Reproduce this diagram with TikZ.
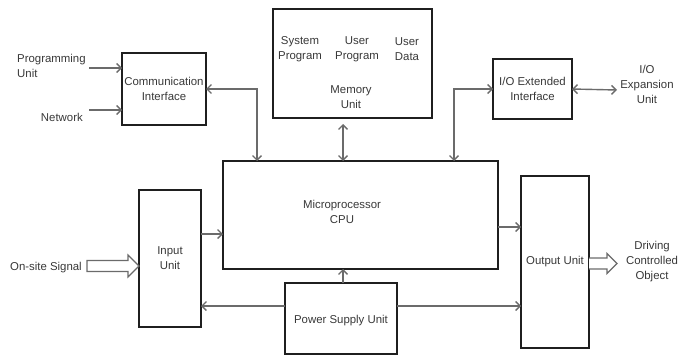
\documentclass[tikz,border=0pt]{standalone}
\usepackage{fontspec}
\setmainfont{Liberation Sans}
\usetikzlibrary{arrows.meta,calc}
\begin{document}
\begin{tikzpicture}[x=1pt,y=-1pt,
  every node/.style={font=\fontsize{11.4}{15}\selectfont, text=black!78},
  box/.style={draw=black!88, line width=1.6pt, inner sep=0pt, outer sep=0pt, align=center},
  lbl/.style={align=center, inner sep=0pt},
  conn/.style={draw=black!58, line width=1.4pt, >={Straight Barb[length=4.5pt,width=9pt]}},
  hol/.style={draw=black!58, line width=1.2pt, fill=white, line join=miter}
]
\useasboundingbox (0,0) rectangle (688,356);

% boxes
\node[box, minimum width=84pt, minimum height=72pt] (comm) at (164,89) {Communication\\Interface};
\node[box, minimum width=159pt, minimum height=109pt] (mem) at (352.5,63.5) {};
\node[box, minimum width=79pt, minimum height=60pt] (io) at (532.5,89) {I/O Extended\\Interface};
\node[box, minimum width=275pt, minimum height=108pt] (cpu) at (360.5,215) {};
\node[box, minimum width=62pt, minimum height=137pt] (input) at (170,258.5) {Input\\Unit};
\node[box, minimum width=68pt, minimum height=172pt] (output) at (555,262) {Output Unit};
\node[box, minimum width=112pt, minimum height=71pt] (power) at (341,318.5) {};

% texts inside large boxes
\node[lbl] (sysprog) at (300,49) {System\\Program};
\node[lbl] (userprog) at (357,49) {User\\Program};
\node[lbl] (userdata) at (407,49) {User\\Data};
\node[lbl] (memlbl) at (351,97.5) {Memory\\Unit};
\node[lbl] (cpulbl) at (342,212) {Microprocessor\\CPU};
\node[lbl] (pwrlbl) at (341,321) {Power Supply Unit};

% outside labels
\node[lbl, align=left, anchor=west] (prog) at (17,66) {Programming\\Unit};
\node[lbl, anchor=east] (net) at (83,117) {Network};
\node[lbl] (ioexp) at (647,84.5) {I/O\\Expansion\\Unit};
\node[lbl, anchor=east] (onsite) at (82,268) {On-site Signal};
\node[lbl] (drive) at (652,262) {Driving\\Controlled\\Object};

% free ends
\coordinate (pa) at (89,68);
\coordinate (na) at (89,110);
\coordinate (ea) at (617,90);

% connectors
\draw[conn,->] (pa) -- (pa -| comm.west);
\draw[conn,->] (na) -- (na -| comm.west);
\draw[conn,<->] (comm.east) -| ([xshift=34pt]cpu.north west);
\draw[conn,<->] (io.west) -| ([xshift=-44pt]cpu.north east);
\draw[conn,<->] (io.east) -- (ea);
\draw[conn,<->] ([shift={(-9.5pt,-6pt)}]mem.south) coordinate (m1) -- (m1 |- cpu.north);
\draw[conn,->] ([yshift=24.5pt]input.east) coordinate (i1) -- (i1 -| cpu.west);
\draw[conn,->] ([yshift=-12pt]cpu.east) coordinate (c1) -- (c1 -| output.west);
\draw[conn,->] ([xshift=2pt]power.north) coordinate (p0) -- (p0 |- cpu.south);
\draw[conn,->] ([yshift=12.5pt]power.west) coordinate (p1) -- (p1 -| input.east);
\draw[conn,->] ([yshift=12.5pt]power.east) coordinate (p2) -- (p2 -| output.west);

% hollow arrows
\coordinate (s1) at (87,266);
\coordinate (t1) at (s1 -| input.west);
\draw[hol] ($(s1)+(0,-5.5)$) -- ($(t1)+(-11,-5.5)$) -- ($(t1)+(-11,-11)$) -- (t1)
  -- ($(t1)+(-11,11)$) -- ($(t1)+(-11,5.5)$) -- ($(s1)+(0,5.5)$) -- cycle;
\coordinate (s2) at ([yshift=-1.5pt]output.east);
\coordinate (t2) at ($(s2)+(28,0)$);
\draw[hol] ($(s2)+(0,-5.5)$) -- ($(t2)+(-10,-5.5)$) -- ($(t2)+(-10,-10)$) -- (t2)
  -- ($(t2)+(-10,10)$) -- ($(t2)+(-10,5.5)$) -- ($(s2)+(0,5.5)$);
\end{tikzpicture}
\end{document}
